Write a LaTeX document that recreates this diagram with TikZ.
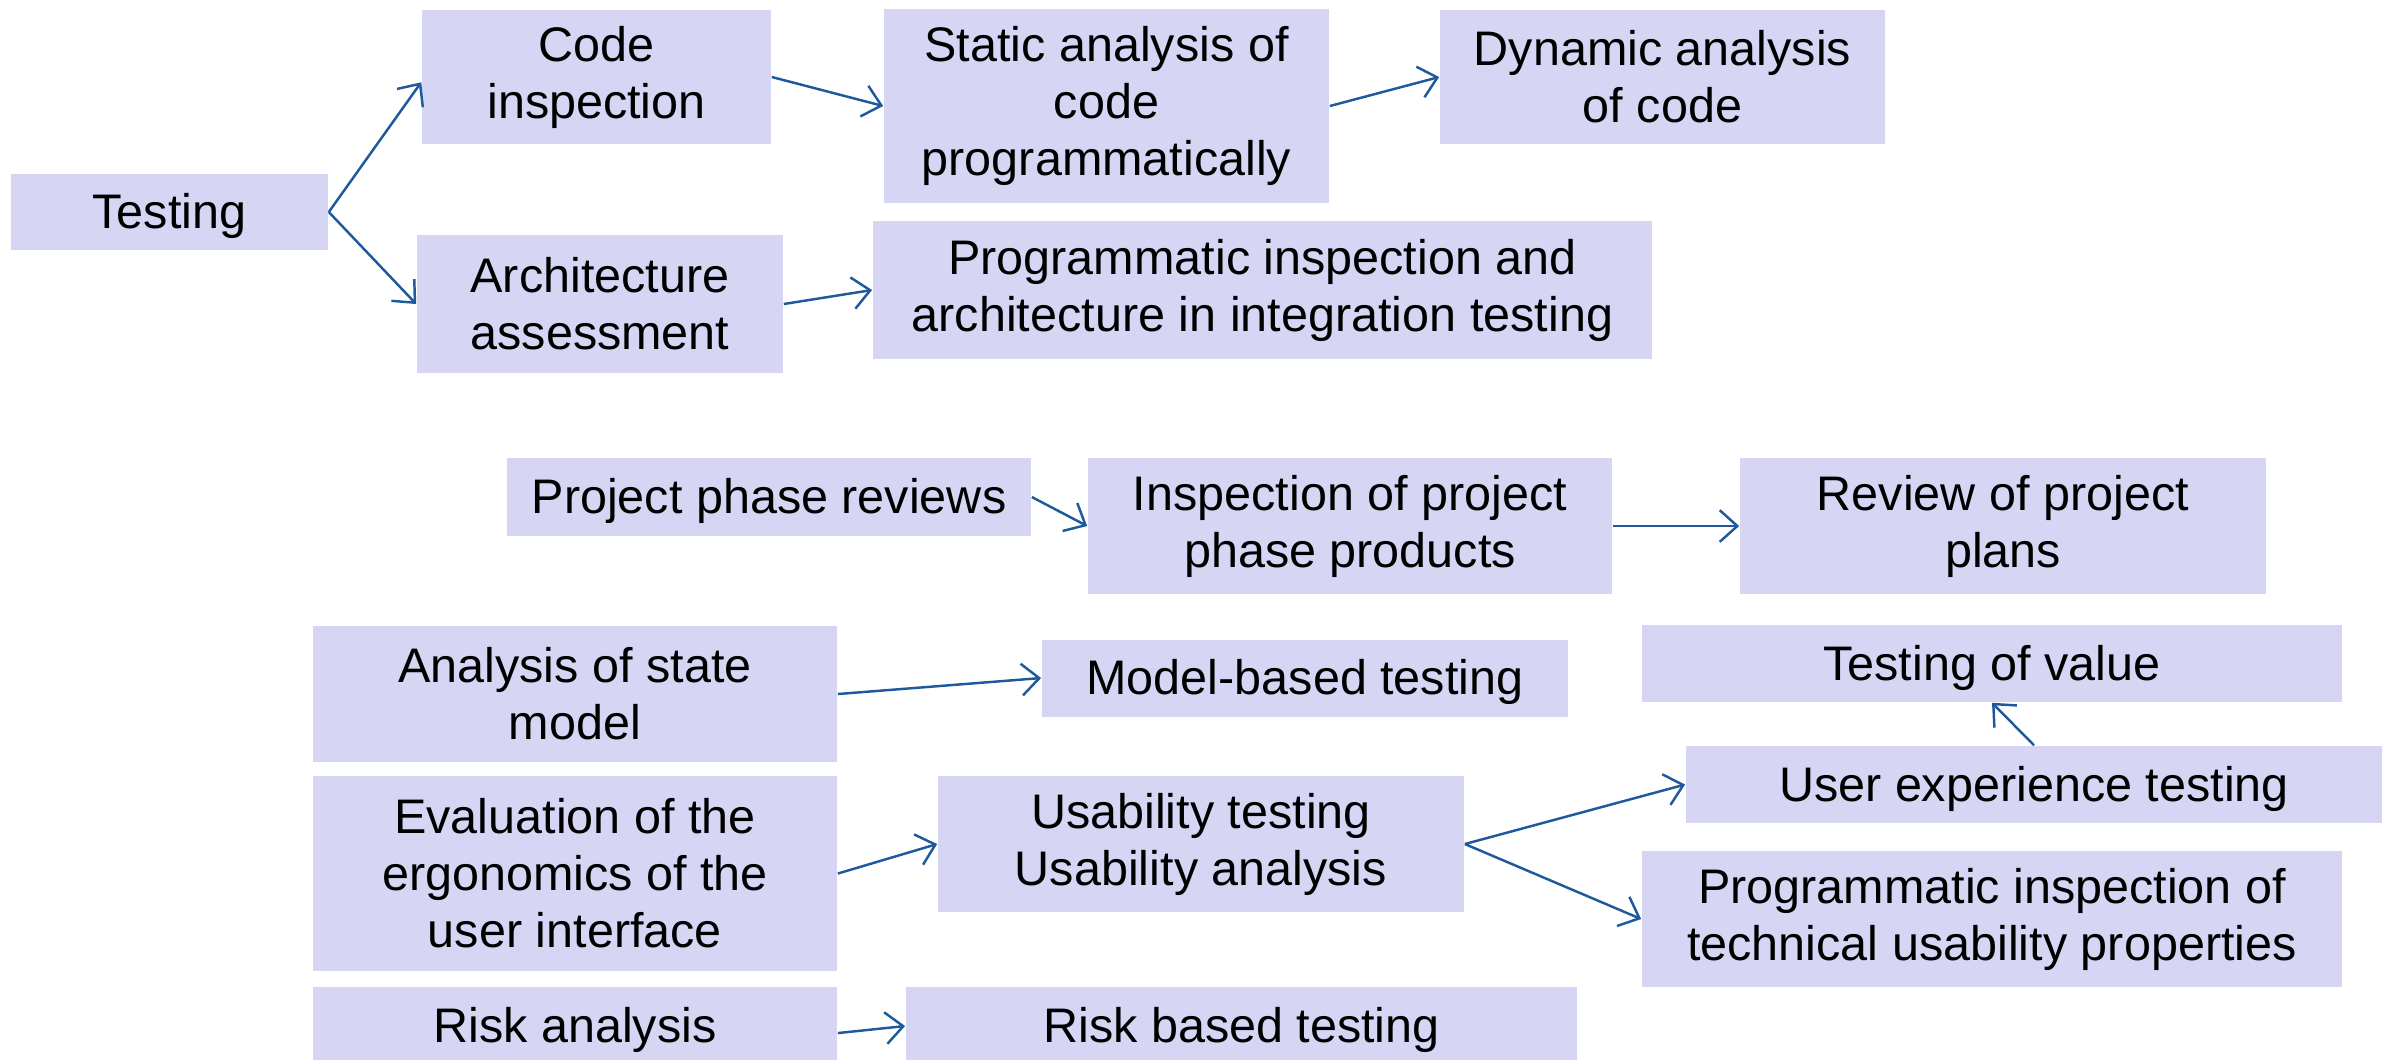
\documentclass[tikz,border=0pt]{standalone}
\usepackage{fontspec}
\setmainfont{Liberation Sans}
\usetikzlibrary{arrows.meta}
\definecolor{boxfill}{RGB}{214,214,244}
\definecolor{linkblue}{RGB}{30,90,155}

\begin{document}
\begin{tikzpicture}[x=0.01cm,y=-0.01cm,
  box/.style 2 args={fill=boxfill,inner sep=0pt,align=center,minimum width=#1,minimum height=#2,font=\fontsize{13.8}{16.2}\selectfont},
  oneline/.style={text height=12.5pt,text depth=2.9pt},
  link/.style={draw=linkblue,line width=0.7pt,-{Straight Barb[length=5pt,width=9pt]}}]
\clip (0,0) rectangle (2389,1059);
%the code testing part at the top
\node[box={3.17cm}{0.76cm},oneline] (test) at (169.5,212) {Testing};
\node[box={3.49cm}{1.34cm}] (code) at (596.5,77) {Code\\inspection};
\node[box={4.45cm}{1.93cm}] (static) at (1106.5,106) {Static analysis of\\code\\programmatically};
\node[box={4.45cm}{1.34cm}] (dyn) at (1662.5,77) {Dynamic analysis\\of code};
\node[box={3.66cm}{1.37cm}] (arch) at (600,304) {Architecture\\assessment};
\node[box={7.79cm}{1.37cm}] (progint) at (1262.5,290) {Programmatic inspection and\\architecture in integration testing};
%the project reviews
\node[box={5.24cm}{0.78cm},oneline] (ppr) at (769,497) {Project phase reviews};
\node[box={5.24cm}{1.36cm}] (insp) at (1350,526) {Inspection of project\\phase products};
\node[box={5.26cm}{1.36cm}] (rev) at (2003,526) {Review of project\\plans};
%the analysis boxes on the left and what they lead to
\node[box={5.24cm}{1.36cm}] (asm) at (575,694) {Analysis of state\\model};
\node[box={5.26cm}{0.77cm},oneline] (mbt) at (1305,678) {Model-based testing};
\node[box={7.00cm}{0.77cm},oneline] (tov) at (1992,663.5) {Testing of value};
\node[box={6.96cm}{0.77cm},oneline] (uxt) at (2034,784.5) {User experience testing};
\node[box={5.24cm}{1.95cm}] (evalui) at (575,873.5) {Evaluation of the\\ergonomics of the\\user interface};
\node[box={5.26cm}{1.36cm}] (usab) at (1201,844) {Usability testing\\Usability analysis};
\node[box={7.00cm}{1.36cm}] (pit) at (1992,919) {Programmatic inspection of\\technical usability properties};
\node[box={5.24cm}{0.78cm},oneline] (risk) at (575,1026) {Risk analysis};
\node[box={6.71cm}{0.78cm},oneline] (rbt) at (1241.5,1026) {Risk based testing};
%the arrows
\draw[link] (test.east) -- ([yshift=-1.5pt]code.west);
\draw[link] (test.east) -- (arch.west);
\draw[link] (code.east) -- (static.west);
\draw[link] (static.east) -- (dyn.west);
\draw[link] (arch.east) -- (progint.west);
\draw[link] (ppr.east) -- (insp.west);
\draw[link] (insp.east) -- (rev.west);
\draw[link] (asm.east) -- (mbt.west);
\draw[link] (evalui.east) -- (usab.west);
\draw[link] (usab.east) -- (uxt.west);
\draw[link] (usab.east) -- (pit.west);
\draw[link] (uxt.north) -- (tov.south);
\draw[link] ([yshift=-2pt]risk.east) -- (rbt.west);
\end{tikzpicture}
\end{document}
